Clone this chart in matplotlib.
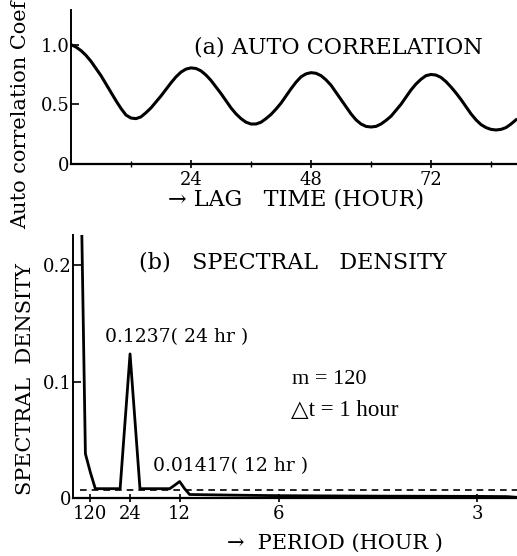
import numpy as np
import matplotlib
matplotlib.use('Agg')
import matplotlib.pyplot as plt

# (a) auto correlation
lag = list(range(0, 90))
acf = [1.00, 0.98, 0.95, 0.91, 0.86, 0.80, 0.74, 0.67, 0.60, 0.53,
       0.465, 0.41, 0.385, 0.38, 0.395, 0.43, 0.47, 0.52, 0.57, 0.625,
       0.68, 0.73, 0.77, 0.795, 0.805, 0.80, 0.78, 0.745, 0.70, 0.645,
       0.59, 0.53, 0.47, 0.42, 0.38, 0.35, 0.335, 0.335, 0.35, 0.38,
       0.415, 0.46, 0.51, 0.57, 0.63, 0.685, 0.73, 0.755, 0.765, 0.76,
       0.74, 0.705, 0.66, 0.60, 0.54, 0.48, 0.42, 0.37, 0.335, 0.315,
       0.31, 0.315, 0.335, 0.365, 0.40, 0.45, 0.50, 0.56, 0.62, 0.67,
       0.71, 0.74, 0.75, 0.745, 0.725, 0.69, 0.645, 0.595, 0.54, 0.48,
       0.42, 0.37, 0.33, 0.305, 0.29, 0.285, 0.29, 0.305, 0.335, 0.37]

# (b) spectral density vs frequency index k (period = 240 / k hours)
k = [0, 1, 2, 3, 4, 5, 6, 7, 8, 9, 10, 11, 12, 13, 14, 15, 16, 17, 18, 19, 20, 21,
     22, 25, 30, 40, 50, 60, 70, 80, 86, 88]
spec = [0.30, 0.038, 0.022, 0.008, 0.008, 0.008, 0.008, 0.008, 0.008, 0.066, 0.1237,
        0.066, 0.008, 0.008, 0.008, 0.008, 0.008, 0.008, 0.008, 0.011, 0.01417, 0.008,
        0.003, 0.0028, 0.0025, 0.002, 0.0018, 0.0016, 0.0015, 0.0014, 0.0012, 0.0006]
noise_level = 0.0069
period_ticks = [2, 10, 20, 40, 80]
period_labels = ['120', '24', '12', '6', '3']

serif = ['DejaVu Serif', 'DejaVu Sans']
times = ['Liberation Serif', 'DejaVu Sans']
plt.rcParams['font.family'] = serif
plt.rcParams['font.size'] = 13

fig = plt.figure(figsize=(5.17, 5.56), dpi=100)
ax1 = fig.add_axes([71/517, 1-164/556, 446/517, 154/556])
ax2 = fig.add_axes([73/517, 1-498/556, 444/517, 263/556])

for ax in (ax1, ax2):
    ax.spines['top'].set_visible(False)
    ax.spines['right'].set_visible(False)
    ax.spines['left'].set_linewidth(1.4)
    ax.spines['bottom'].set_linewidth(1.6)
    ax.tick_params(direction='inout', length=6, width=1.2, pad=2, labelsize=13)

# ---- (a) ----
ax1.plot(lag, acf, color='black', lw=2.2, solid_joinstyle='round')
ax1.set_xlim(0, 89.2)
ax1.set_ylim(0, 1.29)
ax1.set_yticks([0, 0.5, 1.0])
ax1.set_yticklabels(['0', '0.5', '1.0'])
ax1.set_xticks([24, 48, 72])
ax1.set_xticks([12, 36, 60, 84], minor=True)
ax1.tick_params(which='minor', direction='inout', length=5, width=1)
ax1.tick_params(axis='y', direction='in', pad=1)
ax1.text(53.5, 0.98, '(a) AUTO CORRELATION', ha='center', va='center', fontsize=16)
ax1.text(45, -0.30, '→ LAG   TIME (HOUR)', ha='center', va='center', fontsize=16,
         clip_on=False)
fig.text(0.039, 1-115/556, 'Auto correlation Coef', rotation=90, ha='center',
         va='center', fontsize=15)

# ---- (b) ----
ax2.plot(k, spec, color='black', lw=2.0, clip_on=True)
ax2.plot([k[0], k[-1]], [noise_level, noise_level], color='black', lw=1.2,
         linestyle=(0, (4, 3)))
ax2.set_xlim(-1.5, 88.0)
ax2.set_ylim(0, 0.2258)
ax2.set_yticks([0, 0.1, 0.2])
ax2.set_yticklabels(['0', '0.1', '0.2'])
ax2.tick_params(axis='y', direction='in', pad=1)
ax2.set_xticks(period_ticks)
ax2.set_xticklabels(period_labels)
ax2.text(42.9, 0.2026, '(b)   SPECTRAL   DENSITY', ha='center', va='center',
         fontsize=16)
ax2.text(19.3, 0.138, '0.1237( 24 hr )', ha='center', va='center', fontsize=13.5)
ax2.text(30.2, 0.0275, '0.01417( 12 hr )', ha='center', va='center', fontsize=13.5)
ax2.text(42.7, 0.102, 'm = 120', ha='left', va='center', fontsize=16, family=times)
ax2.text(42.5, 0.0755, '△t = 1 hour', ha='left', va='center', fontsize=16.5, family=times)
ax2.text(51.4, -0.0386, '→  PERIOD (HOUR )', ha='center', va='center', fontsize=15,
         clip_on=False)
fig.text(0.05, 1-379/556, 'SPECTRAL  DENSITY', rotation=90, ha='center',
         va='center', fontsize=15)

fig.savefig('out.png', dpi=100)
